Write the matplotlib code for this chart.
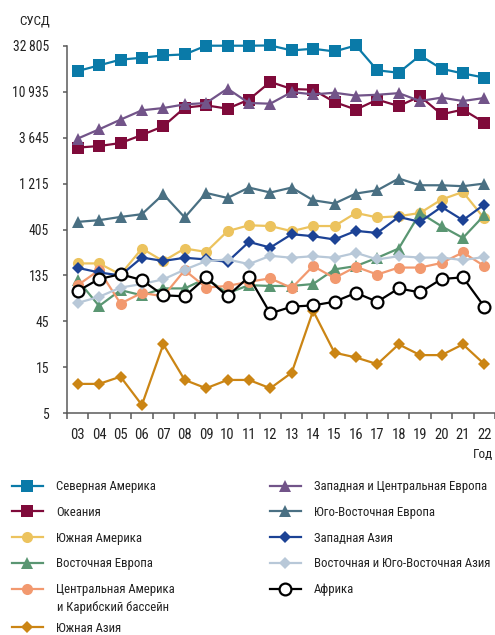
import matplotlib
matplotlib.use("Agg")
import matplotlib.pyplot as plt
from matplotlib.lines import Line2D
import numpy as np

plt.rcParams['font.family'] = ['Roboto Condensed', 'Liberation Sans Narrow', 'DejaVu Sans']
plt.rcParams['font.stretch'] = 'condensed'

years = list(range(2003, 2023))
year_labels = [f"{y % 100:02d}" for y in years]

north_america = [17900, 20500, 23500, 24600, 26000, 26650, 32800, 32800, 32800, 33000,
                 29300, 30500, 28600, 33000, 18200, 17200, 26000, 18900, 16900, 15300]
oceania = [2870, 2980, 3200, 3880, 4780, 7460, 7880, 7280, 9030, 13800,
           11650, 11450, 8530, 7120, 9030, 7750, 9780, 6360, 7120, 5220]
south_america = [180, 180, 138, 257, 190, 257, 237, 389, 448, 440,
                 389, 440, 440, 602, 540, 556, 602, 829, 994, 527]
eastern_europe = [121, 65, 95, 84, 99, 99, 126, 88, 107, 105,
                  105, 110, 156, 169, 206, 257, 602, 438, 331, 570]
central_america = [107, 153, 69, 89, 82, 153, 101, 105, 116, 126,
                   100, 169, 127, 166, 138, 163, 163, 182, 234, 169]
south_asia = [10.1, 10.1, 12.0, 6.1, 26, 11.1, 9.1, 11.1, 11.1, 9.1,
              13.2, 58, 21.3, 19.0, 16.2, 26, 20.1, 20.1, 26, 16.2]
west_central_europe = [3560, 4440, 5600, 7000, 7390, 8070, 8330, 11750, 8330, 8200,
                       10830, 10250, 10650, 9940, 10150, 10550, 8740, 9480, 8740, 9400]
se_europe = [486, 506, 547, 584, 941, 540, 970, 861, 1104, 980,
             1104, 815, 754, 957, 1035, 1370, 1166, 1166, 1140, 1215]
western_asia = [162, 145, 135, 207, 191, 206, 198, 187, 301, 263,
                362, 345, 319, 392, 373, 547, 486, 695, 506, 736]
east_se_asia = [70, 81, 101, 110, 123, 155, 190, 198, 177, 216,
                206, 214, 206, 232, 198, 214, 207, 207, 195, 210]
africa = [93, 124, 139, 121, 84, 82, 129, 82, 131, 54.5,
          64, 66, 72, 89, 72, 99, 90, 124, 129, 64]

y_ticks = [5, 15, 45, 135, 405, 1215, 3645, 10935, 32805]
y_tick_labels = ["5", "15", "45", "135", "405", "1\u2009215", "3\u2009645", "10\u2009935", "32\u2009805"]

series = [
    ("Северная Америка", north_america, dict(color="#0a7aa8", marker="s", ms=8.0)),
    ("Океания", oceania, dict(color="#7f0a3a", marker="s", ms=8.0)),
    ("Южная Америка", south_america, dict(color="#ecc35e", marker="o", ms=8.0)),
    ("Восточная Европа", eastern_europe, dict(color="#5a9672", marker="^", ms=8.5)),
    ("Центральная Америка", central_america, dict(color="#f2996f", marker="o", ms=8.0)),
    ("Южная Азия", south_asia, dict(color="#cb8514", marker="D", ms=6.0)),
    ("Западная и Центральная Европа", west_central_europe, dict(color="#725489", marker="^", ms=8.5)),
    ("Юго-Восточная Европа", se_europe, dict(color="#4a7083", marker="^", ms=8.5)),
    ("Западная Азия", western_asia, dict(color="#1c4295", marker="D", ms=6.0)),
    ("Восточная и Юго-Восточная Азия", east_se_asia, dict(color="#b8c8d8", marker="D", ms=6.0)),
    ("Африка", africa, dict(color="#000000", marker="o", ms=8.5, mfc="white", mew=1.6)),
]

FS_YTICK = 9.8
FS_XTICK = 10.5
FS_LEG = 9.2

W, H = 495, 635
fig = plt.figure(figsize=(W / 100, H / 100), dpi=100)
ax = fig.add_axes([67 / W, 1 - 413.3 / H, (W - 67) / W, (413.3 - 45.7) / H])

handles = {}
for name, vals, st in series:
    kw = dict(st)
    c = kw.pop("color")
    mfc = kw.pop("mfc", c)
    mew = kw.pop("mew", 0)
    ln, = ax.plot(years, vals, color=c, lw=1.6, marker=kw["marker"], ms=kw["ms"],
                  mfc=mfc, mec=c, mew=mew, clip_on=False)
    handles[name] = ln

ax.set_yscale("log")
ax.set_ylim(5, 32805)
ax.set_xlim(2002.5, 2022.19)
ax.set_yticks(y_ticks)
ax.set_yticklabels(y_tick_labels)
ax.yaxis.set_minor_locator(matplotlib.ticker.NullLocator())

ax.set_xticks(np.arange(2002.5, 2023.0, 1.0))
ax.set_xticklabels([])
ax.set_xticks(years, minor=True)
ax.set_xticklabels(year_labels, minor=True)

for s in ["top", "right"]:
    ax.spines[s].set_visible(False)
for s in ["left", "bottom"]:
    ax.spines[s].set_color("#5a5a5a")
    ax.spines[s].set_linewidth(1.1)

ax.tick_params(axis="y", which="major", direction="out", length=3, width=1.1,
               color="#5a5a5a", labelsize=FS_YTICK, pad=10, labelcolor="#222222")
ax.tick_params(axis="x", which="major", direction="out", length=4, width=1.1, color="#5a5a5a")
ax.tick_params(axis="x", which="minor", length=0, labelsize=FS_XTICK, pad=10.5, labelcolor="#222222")

fig.text(35 / W, 1 - 21 / H, "СУСД", ha="center", va="center", fontsize=9.5, color="#222222")
fig.text(493 / W, 1 - 455 / H, "Год", ha="right", va="center", fontsize=9.5, color="#222222")

def mk_handle(name):
    h = handles[name]
    return Line2D([], [], color=h.get_color(), lw=1.6, marker=h.get_marker(),
                  ms=h.get_markersize(), mfc=h.get_markerfacecolor(), mec=h.get_markeredgecolor(),
                  mew=h.get_markeredgewidth())

leg_kw = dict(loc="upper left", frameon=False, borderpad=0, borderaxespad=0,
              handlelength=2.4, handletextpad=1.05, fontsize=FS_LEG, labelspacing=1.0,
              labelcolor="#222222")

left1 = ["Северная Америка", "Океания", "Южная Америка", "Восточная Европа", "Центральная Америка"]
right1 = ["Западная и Центральная Европа", "Юго-Восточная Европа", "Западная Азия",
          "Восточная и Юго-Восточная Азия", "Африка"]

lg1 = fig.legend([mk_handle(n) for n in left1], left1, bbox_to_anchor=(12 / W, 1 - 480 / H), **leg_kw)
lg2 = fig.legend([mk_handle(n) for n in right1], right1, bbox_to_anchor=(270 / W, 1 - 480 / H), **leg_kw)
lg3 = fig.legend([mk_handle("Южная Азия")], ["Южная Азия"], bbox_to_anchor=(12 / W, 1 - 621.5 / H), **leg_kw)
fig.text(57 / W, 1 - 607 / H, "и Карибский бассейн", ha="left", va="center", fontsize=FS_LEG, color="#222222")

fig.savefig("out.png", dpi=100)
